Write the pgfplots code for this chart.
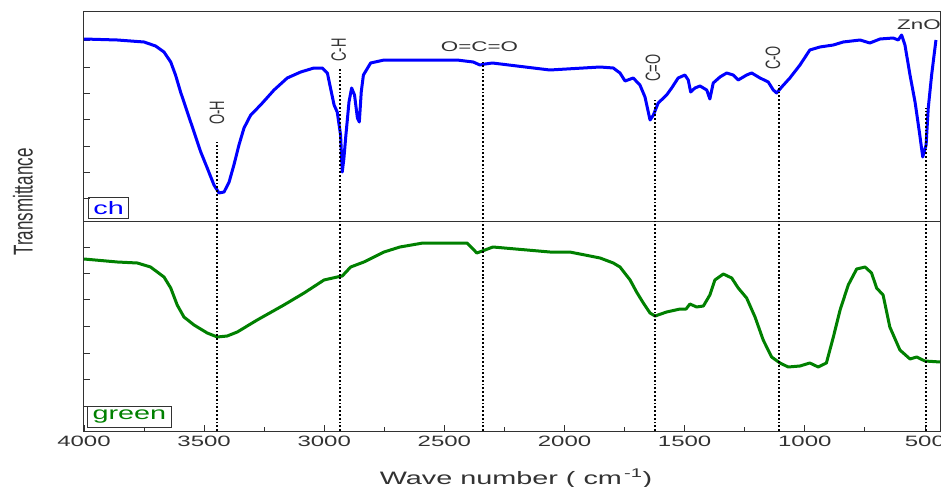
\documentclass[border=0pt]{standalone}
\usepackage{fontspec}
\setmainfont{Liberation Sans}[FakeStretch=1.6]
\newfontfamily\plainsf{Liberation Sans}
\usepackage{graphicx}
\usepackage{pgfplots}
\pgfplotsset{compat=1.18}
\usetikzlibrary{calc}
\definecolor{chblue}{RGB}{0,0,255}
\definecolor{grn}{RGB}{0,128,0}
\definecolor{axgray}{RGB}{50,50,50}
% rotated peak labels: the picture is stretched sideways, so stretch the glyph height
\newcommand{\rlab}[1]{\scalebox{1}[1.6]{\plainsf\fontsize{13bp}{13bp}\selectfont #1}}
\newcommand{\fs}[1]{\fontsize{#1}{#1}\selectfont}

\begin{document}
\begin{tikzpicture}
\begin{axis}[
  width=857bp, height=420bp, scale only axis,
  x dir=reverse, xmin=433, xmax=4000, ymin=0, ymax=420,
  xtick={500,1000,...,4000}, minor x tick num=1,
  xtick pos=bottom, ytick pos=left,
  ytick={25,52,78,105,132,158,184,233,259,285,312,338,364,391},
  yticklabels={},
  tick align=inside, major tick length=6bp, minor tick length=4bp,
  axis line style={axgray, line width=1bp},
  tick style={axgray, line width=0.8bp},
  /pgf/number format/assume math mode=true,
  /pgf/number format/1000 sep={},
  xticklabel style={font=\fs{15bp}, text=axgray, yshift=-2bp},
  clip=false,
]
\coordinate (SW) at (axis cs:4000,0);
\coordinate (NE) at (axis cs:433,420);

% panel separator
\draw[axgray, line width=1bp] (axis cs:4000,210) -- (axis cs:433,210);

% ch (blue)
\addplot[chblue, line width=3bp, line join=round] coordinates {
(4000,392) (3861,391) (3750,389) (3702,385) (3667,379) (3639,369) (3619,356)
(3598,339) (3570,319) (3542,299) (3514,279) (3487,263) (3459,246) (3438,238)
(3417,239) (3396,249) (3376,266) (3355,286) (3334,303) (3306,316) (3265,326)
(3209,341) (3154,353) (3098,359) (3043,363) (3008,363) (2987,358) (2974,343)
(2959,326) (2946,319) (2932,296) (2925,259) (2918,273) (2911,293) (2897,329)
(2886,343) (2874,336) (2862,313) (2854,309) (2846,339) (2837,356) (2807,368)
(2751,371) (2697,371) (2448,371) (2380,369) (2352,366) (2330,367) (2300,368)
(2061,361) (1852,364) (1797,363) (1769,358) (1748,350) (1714,353) (1686,346)
(1665,334) (1644,311) (1630,316) (1610,328) (1575,336) (1554,343) (1527,353)
(1499,356) (1485,351) (1475,339) (1457,343) (1436,345) (1408,341) (1395,332)
(1381,348) (1353,354) (1325,358) (1298,356) (1277,351) (1242,356) (1221,358)
(1186,353) (1152,349) (1131,341) (1117,338) (1096,344) (1062,353) (1020,366)
(979,381) (937,384) (881,386) (840,389) (770,391) (729,388) (687,392)
(632,393) (611,391) (597,396) (583,386) (562,356) (541,329) (523,299)
(509,274) (495,286) (486,323) (472,356) (454,391)
};

% green
\addplot[grn, line width=3bp, line join=round] coordinates {
(4000,172) (3861,169) (3778,168) (3723,164) (3667,154) (3639,143) (3612,126)
(3584,114) (3542,106) (3487,98) (3445,94) (3404,95) (3362,99) (3279,111)
(3168,126) (3084,138) (3001,151) (2946,154) (2925,155) (2890,164) (2835,169)
(2751,179) (2685,184) (2589,188) (2406,188) (2385,183) (2365,178) (2331,181)
(2298,184) (2061,179) (1978,179) (1852,173) (1797,168) (1769,164) (1727,151)
(1700,139) (1672,128) (1644,118) (1623,115) (1575,119) (1519,122) (1494,122)
(1478,127) (1450,124) (1422,125) (1395,136) (1374,151) (1339,157) (1304,153)
(1277,143) (1242,133) (1207,114) (1173,91) (1138,74) (1103,68) (1069,64)
(1020,65) (979,68) (944,64) (910,68) (881,94) (853,121) (819,146) (784,162)
(749,164) (722,158) (701,143) (674,136) (646,104) (604,81) (562,72) (534,74)
(500,70) (437,69)
};

% peak markers
\addplot[black, line width=1.8bp, dotted] coordinates {(3447,0) (3447,289)};
\addplot[black, line width=1.8bp, dotted] coordinates {(2935,0) (2935,364)};
\addplot[black, line width=1.8bp, dotted] coordinates {(2340,0) (2340,369)};
\addplot[black, line width=1.8bp, dotted] coordinates {(1624,0) (1624,331)};
\addplot[black, line width=1.8bp, dotted] coordinates {(1107,0) (1107,346)};
\addplot[black, line width=1.8bp, dotted] coordinates {(496,0) (496,323)};

\node[rotate=90, text=axgray] at (axis cs:3447,318) {\rlab{O-H}};
\node[rotate=90, text=axgray] at (axis cs:2940,381) {\rlab{C-H}};
\node[rotate=90, text=axgray] at (axis cs:1632,363) {\rlab{C=O}};
\node[rotate=90, text=axgray] at (axis cs:1132,373) {\rlab{C-O}};
\node[text=axgray, font=\fs{14bp}] at (axis cs:2354,384) {O=C=O};
\node[text=axgray, font=\fs{14bp}] at (axis cs:525,406) {ZnO};

% panel tags
\node[draw=axgray, line width=0.8bp, anchor=south west, inner xsep=5bp, inner ysep=4bp,
  text=chblue, font=\fs{18bp}] at (axis cs:3983,212) {ch};
\node[draw=axgray, line width=0.8bp, anchor=south west, inner xsep=5bp, inner ysep=4bp,
  text=grn, font=\fs{18bp}] at (axis cs:3987,3) {green};

% axis titles
\node[rotate=90, text=axgray] at (axis cs:4254,229)
  {\scalebox{1}[1.6]{\plainsf\fs{17bp}Transmittance}};
\node[anchor=base, text=axgray, font=\fs{18bp}, yshift=-53bp] at (axis cs:2202,0)
  {Wave number ( cm\textsuperscript{\,-1})};
\end{axis}
\pgfresetboundingbox
\path[use as bounding box] ($(SW)+(-84bp,-56bp)$) rectangle ($(NE)+(0,11bp)$);
\end{tikzpicture}
\end{document}
